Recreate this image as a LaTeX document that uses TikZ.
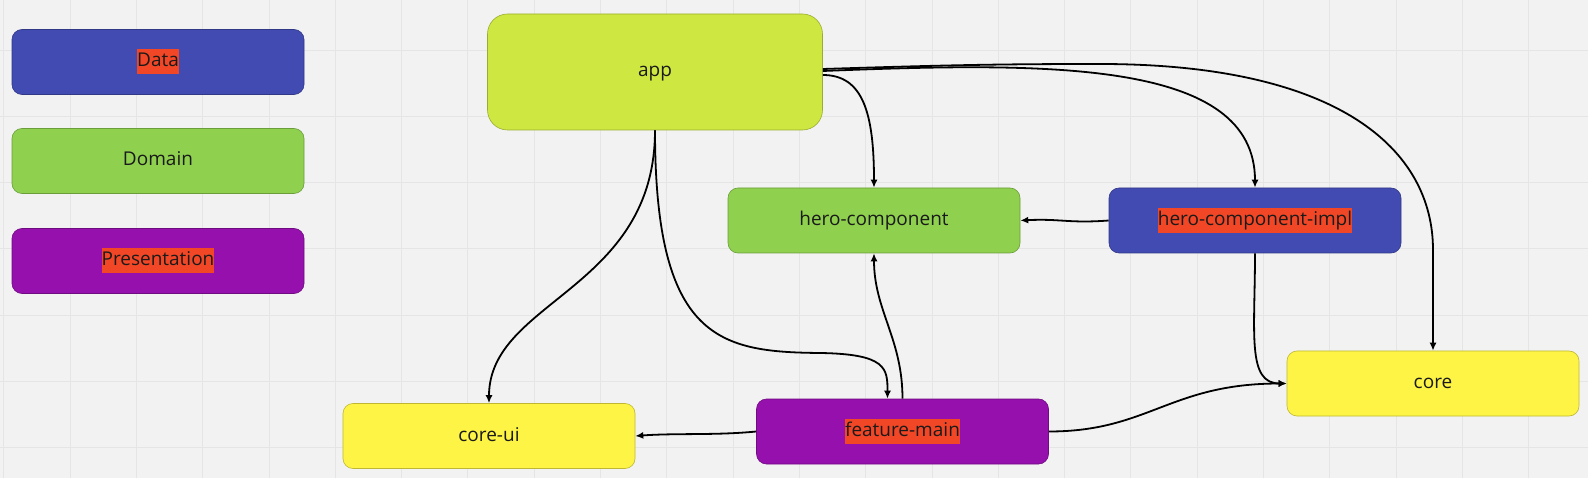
\documentclass[tikz,border=0pt]{standalone}
\usepackage{fontspec}
\setmainfont{Open Sans}
\usetikzlibrary{arrows.meta,calc}
\definecolor{bg}{HTML}{F2F2F2}
\definecolor{gridc}{HTML}{E5E5E5}
\definecolor{datab}{HTML}{414BB2}
\definecolor{domg}{HTML}{8FD14F}
\definecolor{presp}{HTML}{9510AC}
\definecolor{appc}{HTML}{CEE741}
\definecolor{corey}{HTML}{FEF445}
\definecolor{hlred}{HTML}{F24726}
\definecolor{txt}{HTML}{1A1A1A}
\newcommand{\hlt}[1]{{\setlength{\fboxsep}{0pt}\colorbox{hlred}{\strut#1}}}
\begin{document}
\begin{tikzpicture}[x=1pt,y=-1pt,
  box/.style={rounded corners=10pt, minimum width=292pt, minimum height=65pt,
    fill=#1, draw=#1!75!black, line width=0.6pt,
    font=\fontsize{19}{25}\selectfont, text=txt, inner sep=0pt},
  conn/.style={line width=1.8pt, -{Latex[length=8pt,width=7pt]}},
]
\fill[bg] (0,0) rectangle (1588,478);
\useasboundingbox (0,0) rectangle (1588,478);
\foreach \k in {0,...,23} {\draw[gridc, line width=0.8pt] ({3.7+66.3*\k},0) -- ({3.7+66.3*\k},478);}
\foreach \k in {0,...,7} {\draw[gridc, line width=0.8pt] (0,{50+66.3*(\k-1)}) -- (1588,{50+66.3*(\k-1)});}

\node[box=datab] (data) at (158,62) {\hlt{Data}};
\node[box=domg] (domain) at (158,161) {\strut Domain};
\node[box=presp] (pres) at (158,261) {\hlt{Presentation}};

\node[box=appc, minimum width=335pt, minimum height=116pt, rounded corners=20pt] (app) at (655,72) {\strut app};
\node[box=domg] (hero) at (874,220.5) {\strut hero-component};
\node[box=datab] (impl) at (1255,220.5) {\hlt{hero-component-impl}};
\node[box=corey] (core) at (1433,383.5) {\strut core};
\node[box=corey] (coreui) at (489,436) {\strut core-ui};
\node[box=presp] (feature) at (902.5,431.5) {\hlt{feature-main}};

\draw[conn] ($(app.east)+(0,3)$) .. controls +(40,0) and +(0,-75) .. (hero.north);
\draw[conn] ($(app.east)+(0,-1)$) .. controls (1050,62) and ($(impl.north)+(0,-128)$) .. (impl.north);
\draw[conn] ($(app.east)+(0,-3)$) .. controls (950,65) and (1000,64) .. (1100,64)
  .. controls (1340,64) and (1433,150) .. (1433,250) -- (core.north);
\draw[conn] (app.south) .. controls +(0,160) and +(0,-103) .. (coreui.north);
\draw[conn] (app.south) .. controls +(0,210) and (720,352) .. (820,353) .. controls (887,354) and ($(feature.north)+(-15,-30)$) .. ($(feature.north)+(-15,0)$);
\draw[conn] (impl.west) .. controls +(-40,3) and +(40,-2) .. (hero.east);
\draw[conn] (impl.south) .. controls +(0,80) and +(-40,0) .. (core.west);
\draw[conn] (feature.north) .. controls +(0,-60) and +(0,57) .. (hero.south);
\draw[conn] (feature.east) .. controls +(100,0) and +(-117,0) .. (core.west);
\draw[conn] (feature.west) .. controls +(-40,4) and +(40,-3) .. (coreui.east);
\end{tikzpicture}
\end{document}
